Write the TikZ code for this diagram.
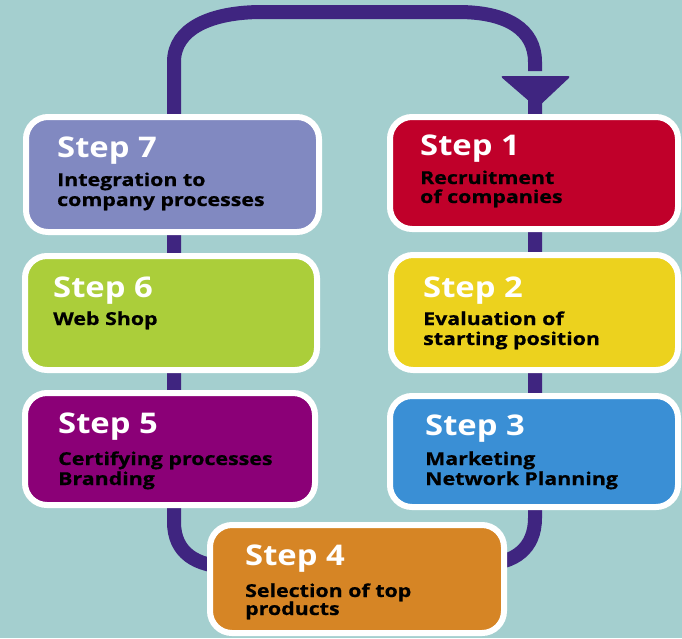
\documentclass[tikz,border=0pt]{standalone}
\usepackage{fontspec}
\setmainfont{Open Sans}
\newfontfamily\titlefont{Open Sans}[FakeStretch=1.15]
\newfontfamily\bodyfont{Open Sans}[FakeStretch=1.2,FakeBold=0.6]
\definecolor{bgc}{HTML}{A4CFCF}
\definecolor{loopc}{HTML}{3F2580}
\definecolor{c7}{HTML}{8189C1}
\definecolor{c1}{HTML}{C0002A}
\definecolor{c6}{HTML}{ABCE3A}
\definecolor{c2}{HTML}{ECD21E}
\definecolor{c5}{HTML}{8B0077}
\definecolor{c3}{HTML}{3A8FD5}
\definecolor{c4}{HTML}{D68525}
\begin{document}
\begin{tikzpicture}[x=1pt,y=-1pt,
  stepbox/.style={draw=white,line width=6pt,rounded corners=22pt,inner sep=0pt,minimum width=#1},
  title/.style={anchor=base west,inner sep=0pt,text=white,font=\titlefont\fontsize{28.5}{32}\selectfont\bfseries},
  body/.style={anchor=base west,inner sep=0pt,text=black,font=\bodyfont\fontsize{17.8}{20}\selectfont\bfseries},
  loop/.style={draw=loopc,line width=14pt}]
\fill[bgc] (0,0) rectangle (682,638);
\useasboundingbox (0,0) rectangle (682,638);
% loop connectors
\coordinate (L0) at (174,200);
\coordinate (R0) at (535,71);
\draw[loop] (L0) -- (174,62) .. controls (174,28) and (212,12) .. (262,12) -- (458,12) .. controls (508,12) and (535,30) .. (535,62) -- (R0);
\fill[loopc,rounded corners=3pt] (500,76) -- (571,76) -- (537,108) -- cycle;
\coordinate (L1) at (174,180);
\coordinate (L2) at (174,522);
\draw[loop] (L1) -- (L2) .. controls (174,552) and (195,567) .. (232,567);
\coordinate (R1) at (535,100);
\coordinate (R2) at (535,518);
\draw[loop] (R1) -- (R2) .. controls (535,548) and (515,564) .. (482,564);
% boxes
\node[stepbox=293pt,minimum height=115pt,fill=c7] (b7) at (172.5,174.5) {};
\node[stepbox=288pt,minimum height=112pt,fill=c1] (b1) at (534,173) {};
\node[stepbox=292pt,minimum height=114pt,fill=c6] (b6) at (171,313) {};
\node[stepbox=287pt,minimum height=115pt,fill=c2] (b2) at (534.5,312.5) {};
\node[stepbox=290pt,minimum height=112pt,fill=c5] (b5) at (170,449) {};
\node[stepbox=288pt,minimum height=111pt,fill=c3] (b3) at (534,451.5) {};
\node[stepbox=294pt,minimum height=108pt,fill=c4] (b4) at (357,579) {};
% texts
\node[title] (t7) at (57,157) {Step 7};
\node[body] (t7a) at (57,186) {Integration to};
\node[body] (t7b) at (57,206) {company processes};
\node[title] (t1) at (420,155) {Step 1};
\node[body] (t1a) at (420,184) {Recruitment};
\node[body] (t1b) at (420,203) {of companies};
\node[title] (t6) at (53,297) {Step 6};
\node[body] (t6a) at (53,325) {Web Shop};
\node[title] (t2) at (423,297) {Step 2};
\node[body] (t2a) at (423,325) {Evaluation of};
\node[body] (t2b) at (423,345) {starting position};
\node[title] (t5) at (58,433) {Step 5};
\node[body] (t5a) at (58,465) {Certifying processes};
\node[body] (t5b) at (58,485) {Branding};
\node[title] (t3) at (425,435) {Step 3};
\node[body] (t3a) at (425,465) {Marketing};
\node[body] (t3b) at (425,485) {Network Planning};
\node[title] (t4) at (245,565) {Step 4};
\node[body] (t4a) at (245,597) {Selection of top};
\node[body] (t4b) at (245,615) {products};
\end{tikzpicture}
\end{document}
